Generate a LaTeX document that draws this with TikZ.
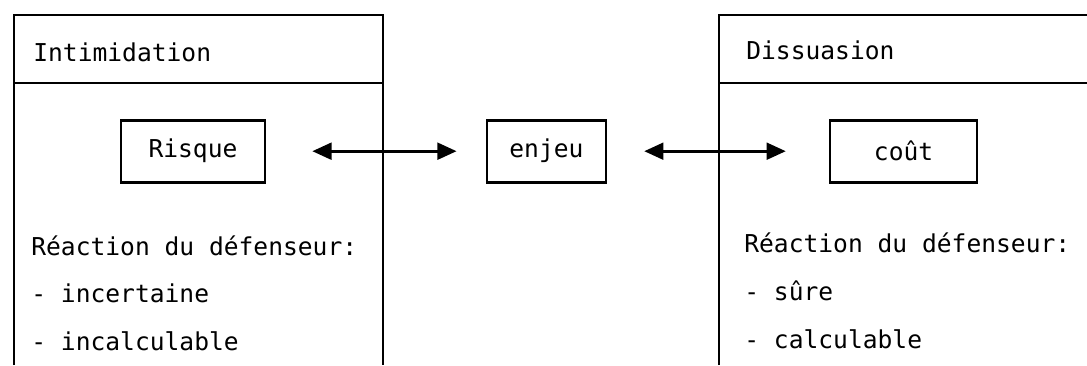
\documentclass[tikz,border=0pt]{standalone}
\usepackage{fontspec}
\usepackage{tikz}
\usetikzlibrary{positioning,arrows.meta}
\newfontfamily\typefont{DejaVu Sans Mono}
\tikzset{box/.style={rectangle,draw,line width=1.9pt,minimum width=3.6cm,minimum height=1.55cm,inner sep=0pt,font=\typefont\fontsize{17.5pt}{21pt}\selectfont},
txt/.style={anchor=base west,inner sep=0pt,font=\typefont\fontsize{17.5pt}{21pt}\selectfont}}

\begin{document}
\begin{tikzpicture}[>={Triangle[length=0.48cm,width=0.42cm]},line width=1.9pt]
        \useasboundingbox (0,0) rectangle (27.175,-9.125);
        \draw (0.35,-9.125) |- (9.575,-0.375) -- (9.575,-9.125);
        \draw (0.35,-2.075) -- (9.575,-2.075);
        \draw (17.975,-9.125) |- (27.175,-0.375);
        \draw (17.975,-2.075) -- (27.175,-2.075);

        \node[txt] (int) at (0.8,-1.54) {Intimidation};
        \node[txt] (dis) at (18.625,-1.48) {Dissuasion};

		\node[box] (ris) at (4.825,-3.78) {Risque};
        \node[box,minimum width=2.975cm] (enj) at (13.66,-3.78) {enjeu};
        \node[box,minimum width=3.675cm] (cou) at (22.59,-3.78) {coût};

        \draw [<->,shorten <=1.15cm,shorten >=0.725cm] (ris) -- (enj);
        \draw [<->,shorten <=0.925cm,shorten >=1.075cm] (enj) -- (cou);

        \node[txt] (rl) at (0.75,-6.375) {Réaction du défenseur:};
        \node[txt] (rl1) at (0.75,-7.55) {- incertaine};
        \node[txt] (rl2) at (0.75,-8.75) {- incalculable};
        \node[txt] (rr) at (18.575,-6.3) {Réaction du défenseur:};
        \node[txt] (rr1) at (18.575,-7.5) {- sûre};
        \node[txt] (rr2) at (18.575,-8.7) {- calculable};
    \end{tikzpicture}
\end{document}
